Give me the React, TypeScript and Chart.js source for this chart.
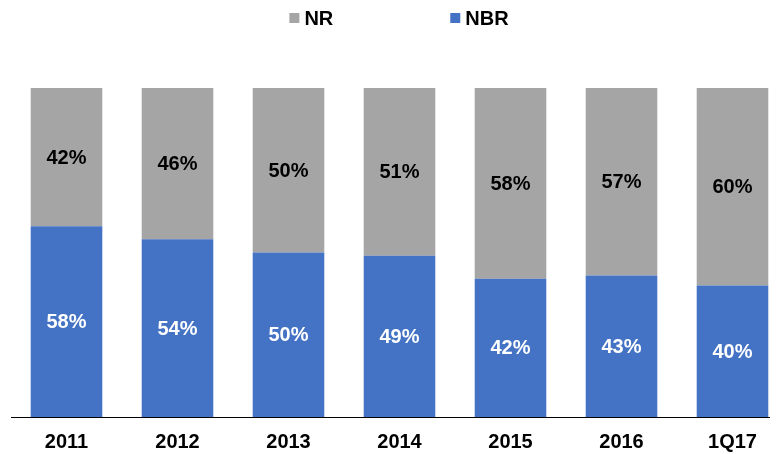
import React, { useEffect, useRef } from "react";
import { Chart, registerables } from "chart.js";

Chart.register(...registerables);

const categories = ["2011", "2012", "2013", "2014", "2015", "2016", "1Q17"];
const nbrValues = [58, 54, 50, 49, 42, 43, 40];
const nrValues = [42, 46, 50, 51, 58, 57, 60];
const seriesNames = ["NR", "NBR"];

const GRAY = "#A5A5A5";
const BLUE = "#4472C4";
const FONT = "'Liberation Sans', Arial, sans-serif";

const labelPlugin = {
  id: "segLabels",
  afterDatasetsDraw(chart: any) {
    const ctx = chart.ctx;
    ctx.save();
    ctx.font = `bold 20px ${FONT}`;
    ctx.textAlign = "center";
    ctx.textBaseline = "middle";
    chart.data.datasets.forEach((ds: any, di: number) => {
      const meta = chart.getDatasetMeta(di);
      meta.data.forEach((bar: any, i: number) => {
        const yMid = (bar.y + bar.base) / 2;
        ctx.fillStyle = ds.labelColor;
        ctx.fillText(`${ds.data[i]}%`, bar.x, yMid + 1);
      });
    });
    ctx.restore();
  },
};

const legendPlugin = {
  id: "customLegend",
  afterDraw(chart: any) {
    const ctx = chart.ctx;
    ctx.save();
    ctx.font = `bold 20px ${FONT}`;
    ctx.textBaseline = "middle";
    ctx.textAlign = "left";
    const items = [
      { text: seriesNames[0], color: GRAY },
      { text: seriesNames[1], color: BLUE },
    ];
    const box = 10;
    const gapBoxText = 5;
    const gapItems = 117;
    const widths = items.map((it) => box + gapBoxText + ctx.measureText(it.text).width);
    const total = widths.reduce((a, b) => a + b, 0) + gapItems * (items.length - 1);
    let x = chart.width / 2 - total / 2;
    const y = 10;
    items.forEach((it, i) => {
      ctx.fillStyle = it.color;
      ctx.fillRect(x, y - box / 2, box, box);
      ctx.fillStyle = "#000";
      ctx.fillText(it.text, x + box + gapBoxText, y + 1);
      x += widths[i] + gapItems;
    });
    ctx.restore();
  },
};

export default function App() {
  const ref = useRef<HTMLCanvasElement>(null);
  useEffect(() => {
    if (!ref.current) return;
    const chart = new Chart(ref.current, {
      type: "bar",
      data: {
        labels: categories,
        datasets: [
          {
            label: seriesNames[1],
            data: nbrValues,
            backgroundColor: BLUE,
            labelColor: "#FFFFFF",
            barPercentage: 0.645,
            categoryPercentage: 1,
          } as any,
          {
            label: seriesNames[0],
            data: nrValues,
            backgroundColor: GRAY,
            labelColor: "#000000",
            barPercentage: 0.645,
            categoryPercentage: 1,
          } as any,
        ],
      },
      options: {
        animation: false,
        responsive: false,
        devicePixelRatio: 1,
        layout: { padding: { top: 80, left: 3, right: 2, bottom: 0 } },
        plugins: {
          legend: { display: false },
          tooltip: { enabled: false },
        },
        scales: {
          x: {
            stacked: true,
            grid: { display: false, drawTicks: false },
            border: { display: true, color: "#000000", width: 1 },
            ticks: {
              color: "#000000",
              font: { family: FONT, size: 20, weight: "bold" },
              padding: 13,
            },
          },
          y: {
            stacked: true,
            display: false,
            min: 0,
            max: 100,
          },
        },
      },
      plugins: [labelPlugin, legendPlugin],
    });
    return () => chart.destroy();
  }, []);
  return (
    <div style={{ width: 770, height: 446, overflow: "hidden" }}>
      <canvas ref={ref} width={782} height={459} style={{ display: "block" }} />
    </div>
  );
}
